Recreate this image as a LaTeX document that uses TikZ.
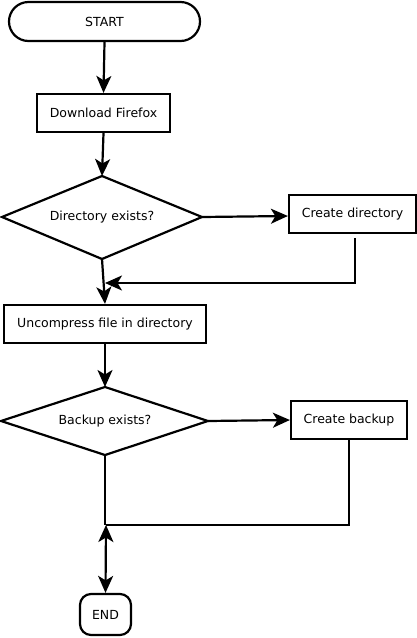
\documentclass[tikz,border=0pt]{standalone}
\usepackage{fontspec}
\setmainfont{DejaVu Sans}
\usetikzlibrary{arrows.meta,shapes.geometric}
\begin{document}
\begin{tikzpicture}[x=1pt,y=-1pt,
  every node/.style={font=\fontsize{12.5}{15}\selectfont, inner sep=0pt, line width=2.2pt, draw, anchor=center},
  box/.style={rectangle, minimum width=#1, minimum height=38pt},
  tip/.tip={Stealth[length=17pt,width=15pt,inset=4.5pt]},
  conn/.style={line width=2.2pt, -tip},
  plain/.style={line width=2.2pt}]
\useasboundingbox (0,0) rectangle (417,638);
\node[rectangle, rounded corners=19.5pt, minimum width=191pt, minimum height=39pt] (start) at (104.5,21.5) {START};
\node[box=133pt] (dl) at (103.5,113) {Download Firefox};
\draw[line width=2.2pt] (2,217) coordinate (d1w) -- (102,176) coordinate (d1n) -- (202,217) coordinate (d1e) -- (102,259) coordinate (d1s) -- cycle;
\node[draw=none] (d1t) at (102,217) {Directory exists?};
\node[box=127pt] (cd) at (352.5,214) {Create directory};
\node[box=202pt] (unc) at (105,324) {Uncompress file in directory};
\draw[line width=2.2pt] (1,421) coordinate (d2w) -- (105,387) coordinate (d2n) -- (208,421) coordinate (d2e) -- (105,455) coordinate (d2s) -- cycle;
\node[draw=none] (d2t) at (105,421) {Backup exists?};
\node[box=116pt] (cb) at (349,420) {Create backup};
\node[rectangle, rounded corners=11pt, minimum width=51pt, minimum height=41pt] (end) at (105.5,614.5) {END};
\coordinate (j1) at (105,283);
\coordinate (cdb) at (355,238);
\coordinate (j2) at (106,525);
% connectors
\draw[conn] (start.south) -- (dl.north);
\draw[conn] (dl.south) -- (d1n);
\draw[conn] (d1e) -- ([yshift=-2pt]cd.west);
\draw[plain] (cdb) -- (cdb |- j1) -- ([xshift=8pt]j1);
\draw[conn] (cdb |- j1) -- (j1);
\draw[conn] (d1s) -- (unc.north);
\draw[conn] (unc.south) -- (d2n);
\draw[conn] (d2e) -- (cb.west);
\draw[plain] (cb.south) -- (cb.south |- j2) -- (j2);
\draw[plain] (d2s) -- (d2s |- j2);
\draw[line width=2.2pt, tip-tip] (j2) -- (end.north);
\end{tikzpicture}
\end{document}
